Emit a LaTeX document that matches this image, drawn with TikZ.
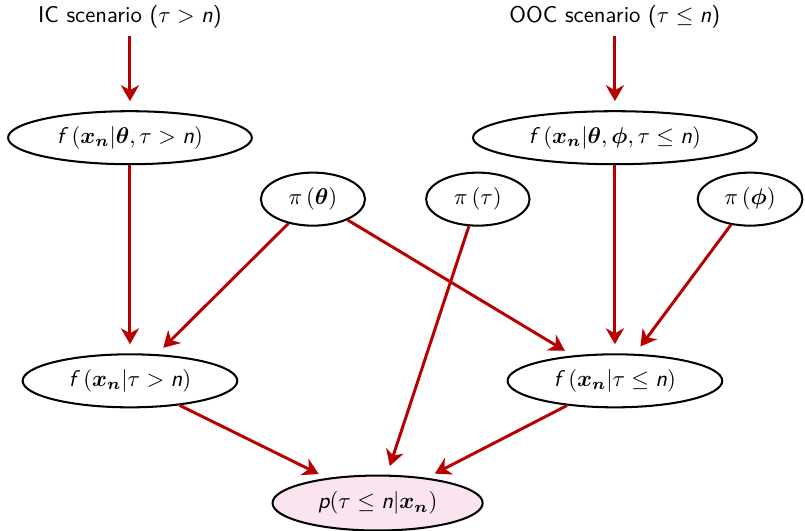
\documentclass[tikz,border=0pt]{standalone}
\usepackage{amsmath,bm}
\usepackage{tikz}
\usetikzlibrary{shapes.geometric,arrows.meta}
\definecolor{arrred}{RGB}{185, 0, 0}
\definecolor{postpink}{RGB}{250, 228, 240}
\newcommand{\sv}[1]{\textit{#1}}

\begin{document}
\begin{tikzpicture}[
  font=\sffamily,
  dens/.style={draw, line width=0.9pt, ellipse, inner sep=0pt, minimum height=0.82cm},
  link/.style={line width=1.3pt, arrred, -{Stealth[length=7pt,width=8pt,inset=2.2pt]}, shorten >=4pt}
]
\useasboundingbox (0,0) rectangle (12.45,8.21);

% Scenarios
\node (iclab) at (2.01,7.95) {IC scenario ($\tau > \sv{n}$)};
\node (ooclab) at (9.51,7.95) {OOC scenario ($\tau \leq \sv{n}$)};

% Likelihoods given parameters
\node[dens, minimum width=3.77cm] (fic) at (2.01,6.08)
  {$\sv{f}\,\left(\bm{x}_{\bm{n}} \middle| \bm{\theta}, \tau > \sv{n}\right)$};
\node[dens, minimum width=4.39cm] (fooc) at (9.51,6.08)
  {$\sv{f}\,\left(\bm{x}_{\bm{n}} \middle| \bm{\theta}, \bm{\phi}, \tau \leq \sv{n}\right)$};

% Priors
\node[dens, minimum width=1.61cm] (pitheta) at (4.84,5.13) {$\pi\left(\bm{\theta}\right)$};
\node[dens, minimum width=1.60cm] (pitau) at (7.39,5.13) {$\pi\left(\tau\right)$};
\node[dens, minimum width=1.62cm] (piphi) at (11.60,5.13) {$\pi\left(\bm{\phi}\right)$};

% Marginal likelihoods
\node[dens, minimum width=3.32cm] (mic) at (2.01,2.32)
  {$\sv{f}\,\left(\bm{x}_{\bm{n}} \middle| \tau > \sv{n}\right)$};
\node[dens, minimum width=3.32cm] (mooc) at (9.51,2.32)
  {$\sv{f}\,\left(\bm{x}_{\bm{n}} \middle| \tau \leq \sv{n}\right)$};

% Posterior
\node[dens, fill=postpink, minimum width=3.25cm, minimum height=0.85cm] (post) at (5.84,0.43)
  {$\sv{p}(\tau \leq \sv{n} | \bm{x}_{\bm{n}})$};

\draw[link] (iclab) -- (fic);
\draw[link] (ooclab) -- (fooc);
\draw[link] (fic) -- (mic);
\draw[link] (fooc) -- (mooc);
\draw[link] (pitheta) -- (mic);
\draw[link] (pitheta) -- (mooc);
\draw[link] (piphi) -- (mooc);
\draw[link] (pitau) -- (post);
\draw[link] (mic) -- (post);
\draw[link] (mooc) -- (post);
\end{tikzpicture}
\end{document}
